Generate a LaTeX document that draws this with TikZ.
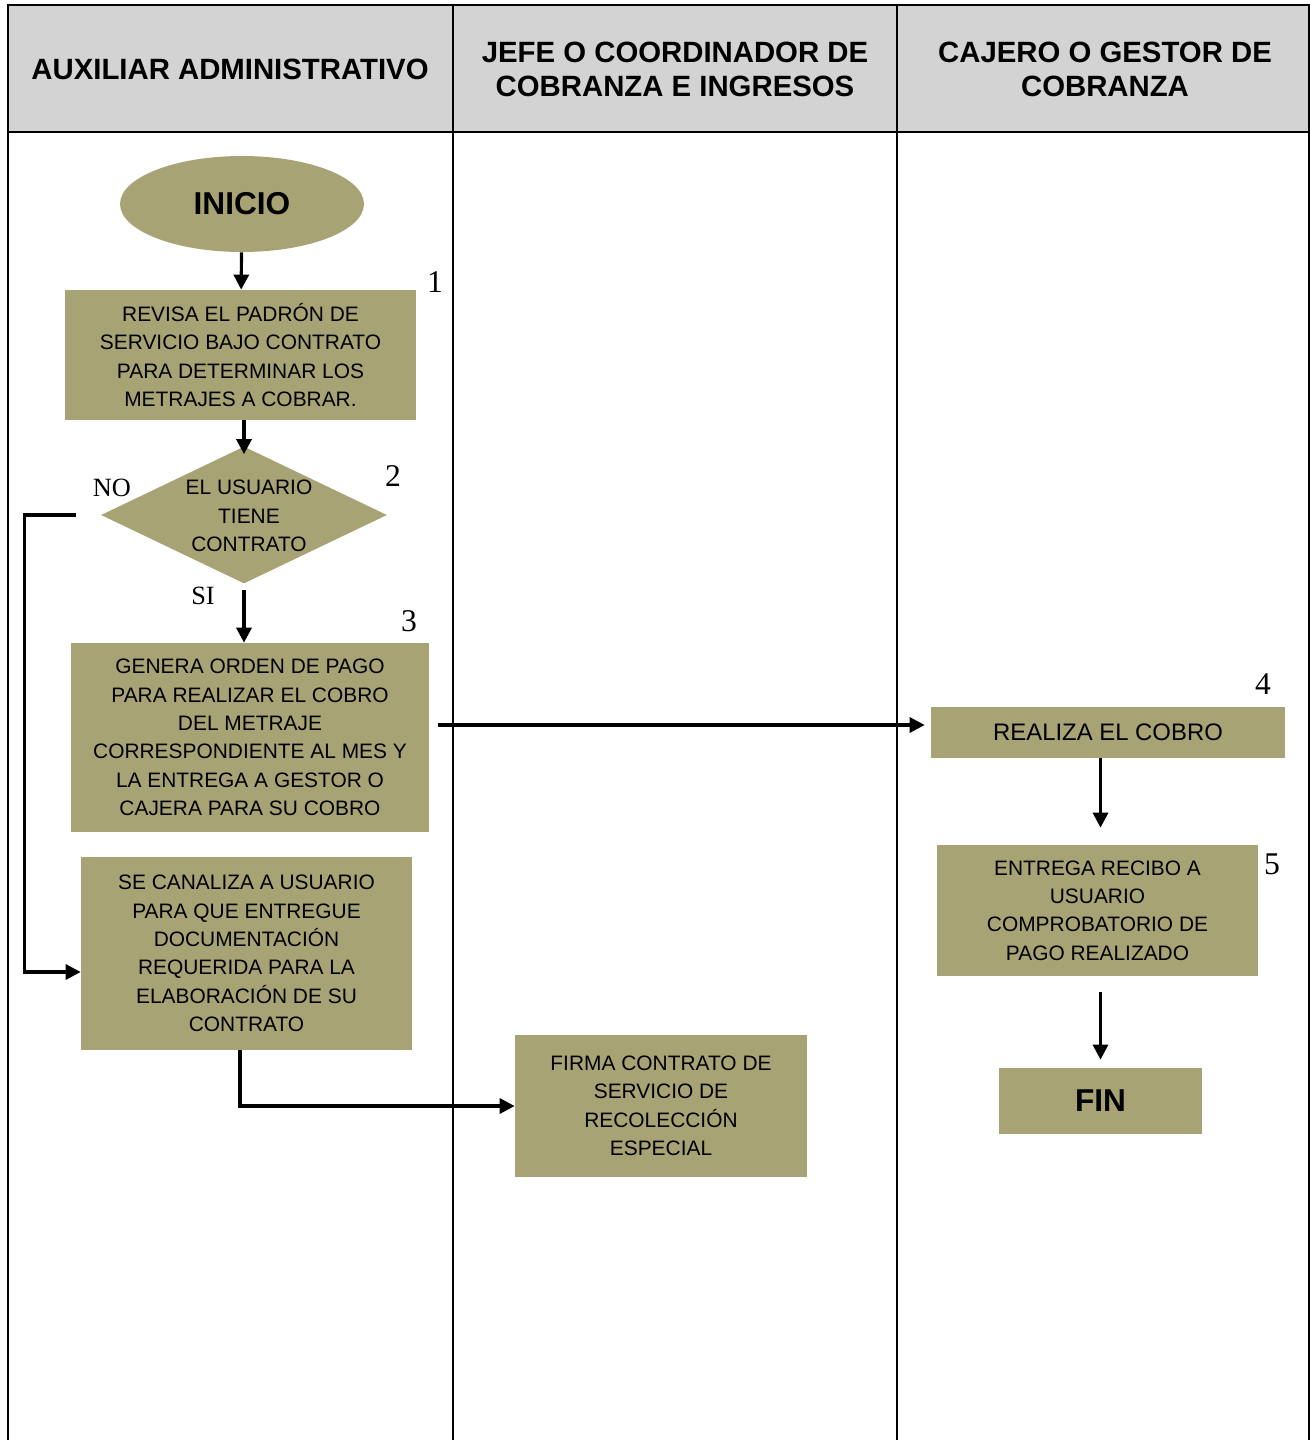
\documentclass[tikz,border=0pt]{standalone}
\usepackage{fontspec}
\setmainfont{Liberation Sans}
\newfontfamily\numfont{Liberation Serif}
\usetikzlibrary{arrows.meta,shapes.geometric}
\definecolor{olivo}{RGB}{168,163,116}
\definecolor{gris}{RGB}{211,211,211}

\tikzset{
  caja/.style={fill=olivo, inner sep=0pt, align=center, font=\fontsize{11.9}{16.2}\selectfont},
  titulo/.style={align=center, font=\bfseries\fontsize{16.7}{19.3}\selectfont},
  numero/.style={font=\numfont\fontsize{18}{20}\selectfont},
  rama/.style={font=\numfont\fontsize{15}{17}\selectfont},
  flujo/.style={-{Triangle[length=0.3cm,width=0.3cm]}, line width=1.8pt},
  carril/.style={line width=1.1pt}
}

\begin{document}
\begin{tikzpicture}[x=0.02cm, y=-0.02cm]
\useasboundingbox (0,0) rectangle (1310,1440);

\fill[gris] (8,5) rectangle (1310,132);
\draw[carril] (8,1440) -- (8,5) -- (1310,5);
\draw[carril] (8,132) -- (1310,132);
\draw[carril] (453,5) -- (453,1440);
\draw[carril] (897,5) -- (897,1440);
\draw[carril] (1309,5) -- (1309,1440);

\node[titulo] (t1) at (230,69) {AUXILIAR ADMINISTRATIVO};
\node[titulo] (t2) at (675,69) {JEFE O COORDINADOR DE\\COBRANZA E INGRESOS};
\node[titulo] (t3) at (1105,69) {CAJERO O GESTOR DE\\COBRANZA};

\node[fill=olivo, ellipse, inner sep=0pt, minimum width=4.88cm, minimum height=1.92cm,
  font=\bfseries\fontsize{18}{20}\selectfont] (ini) at (242,204) {INICIO};
\node[caja, minimum width=7.02cm, minimum height=2.6cm] (b1) at (240.5,355)
  {REVISA EL PADRÓN DE\\SERVICIO BAJO CONTRATO\\PARA DETERMINAR LOS\\METRAJES A COBRAR.};
\node[fill=olivo, diamond, inner sep=0pt, minimum width=5.72cm, minimum height=2.74cm] (dec) at (244,515) {};
\node[align=center, font=\fontsize{11.9}{16.2}\selectfont] (dect) at (249,516) {EL USUARIO\\TIENE\\CONTRATO};
\node[caja, minimum width=7.16cm, minimum height=3.78cm] (b3) at (250,737.5)
  {GENERA ORDEN DE PAGO\\PARA REALIZAR EL COBRO\\DEL METRAJE\\CORRESPONDIENTE AL MES Y\\LA ENTREGA A GESTOR O\\CAJERA PARA SU COBRO};
\node[caja, minimum width=6.62cm, minimum height=3.86cm] (b6) at (246.5,953.5)
  {SE CANALIZA A USUARIO\\PARA QUE ENTREGUE\\DOCUMENTACIÓN\\REQUERIDA PARA LA\\ELABORACIÓN DE SU\\CONTRATO};
\node[caja, minimum width=5.84cm, minimum height=2.84cm] (b7) at (661,1106)
  {FIRMA CONTRATO DE\\SERVICIO DE\\RECOLECCIÓN\\ESPECIAL};
\node[caja, minimum width=7.08cm, minimum height=1.02cm,
  font=\fontsize{13.6}{16}\selectfont] (b4) at (1108,732.5) {REALIZA EL COBRO};
\node[caja, minimum width=6.42cm, minimum height=2.62cm] (b5) at (1097.5,910.5)
  {ENTREGA RECIBO A\\USUARIO\\COMPROBATORIO DE\\PAGO REALIZADO};
\node[fill=olivo, inner sep=0pt, minimum width=4.06cm, minimum height=1.32cm,
  font=\bfseries\fontsize{18}{20}\selectfont] (fin) at (1100.5,1101) {FIN};

\node[numero] (n1) at (435,282) {1};
\node[numero] (n2) at (393,476) {2};
\node[numero] (n3) at (409,621) {3};
\node[numero] (n4) at (1263,684) {4};
\node[numero] (n5) at (1272,864) {5};
\node[rama] (no) at (112,488) {NO};
\node[rama] (si) at (203,596) {SI};

\draw[flujo] (ini) -- (b1);
\draw[flujo] (b1.south -| dec.north) -- ([yshift=-0.16cm]dec.north);
\draw[flujo, shorten <=0.12cm] (dec.south) -- (b3.north -| dec.south);
\draw[flujo, shorten <=0.5cm] (dec.west) -- ++(-76,0) |- ([yshift=-0.37cm]b6.west);
\draw[flujo, shorten <=0.18cm, shorten >=0.12cm] ([yshift=0.25cm]b3.east) -- ([yshift=0.25cm]b3.east -| b4.west);
\draw[flujo, shorten >=0.34cm] (b4.south -| fin) -- (b5.north -| fin);
\draw[flujo, shorten <=0.32cm, shorten >=0.16cm] (b5.south -| fin) -- (fin.north);
\draw[flujo] ([xshift=-0.13cm]b6.south) |- (b7.west);
\end{tikzpicture}
\end{document}
